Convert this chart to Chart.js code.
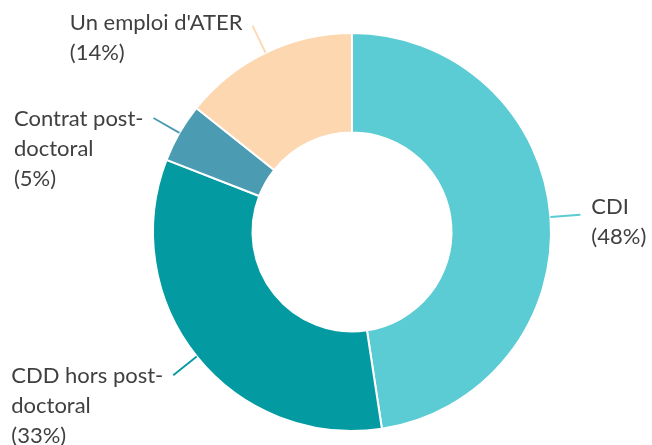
<!DOCTYPE html>
<html>
<head>
<meta charset="utf-8">
<script src="https://cdn.jsdelivr.net/npm/chart.js@4"></script>
<style>
html,body{margin:0;padding:0;background:#fff;}
#wrap{width:652px;height:445px;position:relative;}
</style>
</head>
<body>
<div id="wrap"><canvas id="c" width="652" height="445"></canvas></div>
<script>
const categories = ["CDI", "CDD hors post-doctoral", "Contrat post-doctoral", "Un emploi d'ATER"];
const shares = [47.6, 33.3, 4.8, 14.3];
const shareLabels = ["48%", "33%", "5%", "14%"];
const sliceColors = ["#5BCBD4", "#039AA1", "#4B9CB3", "#FDD7AF"];

const FONT = '22px Lato, "Open Sans", sans-serif';
const TEXT_COLOR = '#404040';

function wrapLabel(s) {
  const idx = s.indexOf('post-');
  if (idx >= 0) {
    return [s.slice(0, idx + 5), s.slice(idx + 5)];
  }
  return [s];
}

const leaderPlugin = {
  id: 'leaders',
  afterDatasetsDraw(chart) {
    const ctx = chart.ctx;
    const meta = chart.getDatasetMeta(0);
    ctx.save();
    ctx.font = FONT;
    ctx.textBaseline = 'middle';
    meta.data.forEach((arc, i) => {
      const p = arc.getProps(['x', 'y', 'startAngle', 'endAngle', 'outerRadius'], true);
      const mid = (p.startAngle + p.endAngle) / 2;
      const cos = Math.cos(mid), sin = Math.sin(mid);
      const x1 = p.x + cos * p.outerRadius, y1 = p.y + sin * p.outerRadius;
      const x2 = p.x + cos * (p.outerRadius + 30), y2 = p.y + sin * (p.outerRadius + 30);
      ctx.strokeStyle = sliceColors[i];
      ctx.lineWidth = 1.8;
      ctx.beginPath();
      ctx.moveTo(x1, y1);
      ctx.lineTo(x2, y2);
      ctx.stroke();
      const lines = wrapLabel(categories[i]).concat(['(' + shareLabels[i] + ')']);
      ctx.fillStyle = TEXT_COLOR;
      ctx.textAlign = 'left';
      const lh = 30;
      if (cos >= 0) {
        const tx = x2 + 11, ty = y2 - 8;
        lines.forEach((l, k) => ctx.fillText(l, tx, ty + k * lh));
      } else {
        const w = Math.max(...lines.map(l => ctx.measureText(l).width));
        const tx = x2 - 10 - w;
        const ty = y2 + (sin < -0.8 ? -3 : 1);
        lines.forEach((l, k) => ctx.fillText(l, tx, ty + k * lh));
      }
    });
    ctx.restore();
  }
};

new Chart(document.getElementById('c'), {
  type: 'doughnut',
  data: {
    labels: categories,
    datasets: [{
      data: shares,
      backgroundColor: sliceColors,
      borderColor: '#ffffff',
      borderWidth: 2,
      hoverOffset: 0
    }]
  },
  options: {
    responsive: false,
    animation: false,
    cutout: '50%',
    rotation: 0,
    layout: { padding: { top: 32, bottom: 13, left: 52, right: 0 } },
    plugins: {
      legend: { display: false },
      tooltip: { enabled: false }
    }
  },
  plugins: [leaderPlugin]
});
</script>
</body>
</html>
